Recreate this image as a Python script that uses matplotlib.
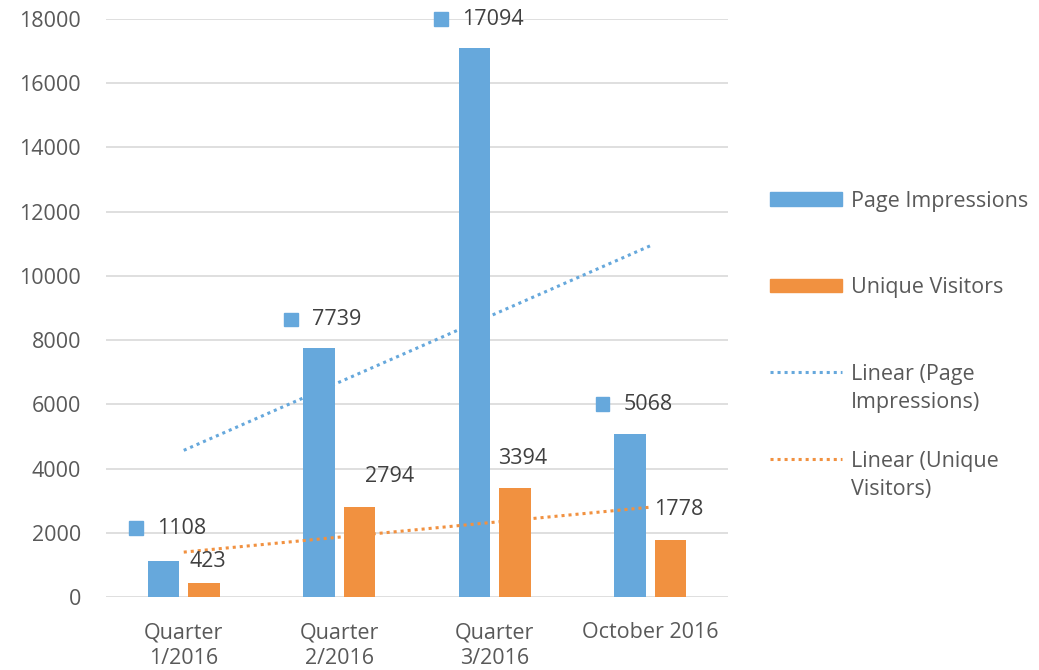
import numpy as np
import matplotlib.pyplot as plt
from matplotlib.patches import Rectangle
from matplotlib.lines import Line2D
from matplotlib.offsetbox import AnnotationBbox, HPacker, TextArea, DrawingArea

# data
categories = ['Quarter\n1/2016', 'Quarter\n2/2016', 'Quarter\n3/2016', 'October 2016']
page_impressions = [1108, 7739, 17094, 5068]
unique_visitors = [423, 2794, 3394, 1778]
y_ticks = [0, 2000, 4000, 6000, 8000, 10000, 12000, 14000, 16000, 18000]
series_names = ['Page Impressions', 'Unique Visitors',
                'Linear (Page\nImpressions)', 'Linear (Unique\nVisitors)']

blue = '#66A8DC'
orange = '#F19140'
label_col = '#404040'
tick_col = '#595959'
fs = 15.5

plt.rcParams['font.family'] = ['Open Sans', 'DejaVu Sans']

fig = plt.figure(figsize=(10.39, 6.70), dpi=100)
ax = fig.add_axes([106/1039, 73/670, 622/1039, 578/670])

x = np.arange(len(categories))
off = 0.13
w = 0.2
ax.bar(x - off, page_impressions, w, color=blue, zorder=3)
ax.bar(x + off, unique_visitors, w, color=orange, zorder=3)

# linear trendlines
for vals, col in [(page_impressions, blue), (unique_visitors, orange)]:
    coef = np.polyfit(x + 1, vals, 1)
    ax.plot(x, np.polyval(coef, x + 1), color=col, ls=(0, (1, 1.3)), lw=2.2, zorder=4)

ax.set_xlim(-0.5, 3.5)
ax.set_ylim(0, 18000)
ax.set_yticks(y_ticks)
ax.set_yticklabels([str(t) for t in y_ticks])
ax.set_xticks(x)
ax.set_xticklabels(categories, linespacing=1.3)
ax.grid(axis='y', color='#D9D9D9', lw=1.2)
ax.set_axisbelow(True)
for s in ax.spines.values():
    s.set_visible(False)
ax.tick_params(axis='both', length=0, labelsize=fs, colors=tick_col)
ax.tick_params(axis='y', pad=18)
ax.tick_params(axis='x', pad=18)

# data labels (blue ones carry a legend key square)
px = 0.72
blue_dy = [33, 29, 29, 30]
for xi, v, dy in zip(x, page_impressions, blue_dy):
    da = DrawingArea(10, 10, 0, 0)
    da.add_artist(Rectangle((0, 0), 10, 10, color=blue))
    ta = TextArea(str(v), textprops=dict(fontsize=fs, color=label_col))
    box = HPacker(children=[da, ta], align='center', pad=0, sep=10)
    ab = AnnotationBbox(box, (xi - off, v), xybox=(4*px, dy*px), boxcoords='offset points',
                        box_alignment=(0.5, 0.5), frameon=False, pad=0, zorder=5)
    ax.add_artist(ab)

orange_dx = [4, 30, 8, 8]
orange_dy = [22, 31, 30, 30]
for xi, v, dx, dy in zip(x, unique_visitors, orange_dx, orange_dy):
    ax.annotate(str(v), (xi + off, v), xytext=(dx*px, dy*px), textcoords='offset points',
                ha='center', va='center', fontsize=fs, color=label_col, zorder=5)

# legend drawn on the figure
H, W = 670, 1039
hx0, hx1, tx = 770/W, 842/W, 851/W
rows = [199, 285, 372, 459]
for i, (name, yy) in enumerate(zip(series_names, rows)):
    yf = 1 - yy/H
    if i < 2:
        col = blue if i == 0 else orange
        fig.add_artist(Rectangle((hx0, yf - 6.5/H), hx1 - hx0, 13/H, color=col,
                                 transform=fig.transFigure))
    else:
        col = blue if i == 2 else orange
        fig.add_artist(Line2D([hx0, hx1], [yf, yf], color=col, ls=(0, (1, 1.3)), lw=2.2,
                              transform=fig.transFigure))
    fig.text(tx, yf + 8/H, name, ha='left', va='top', fontsize=fs, color=tick_col,
             linespacing=1.45)

fig.savefig('out.png', dpi=100)
